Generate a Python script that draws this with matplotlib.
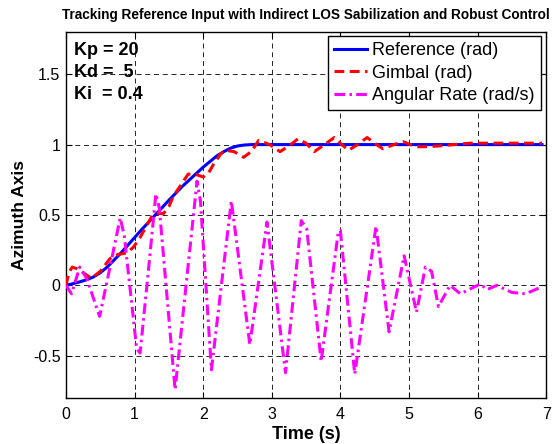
import matplotlib
matplotlib.use("Agg")
import matplotlib.pyplot as plt

plt.rcParams['font.family'] = ['Liberation Sans', 'DejaVu Sans']

# ---------------- data ----------------
ref_t = [0, 0.1, 0.2, 0.3, 0.4, 0.5, 0.6, 0.7, 0.8, 0.9, 1.0, 1.1, 1.2, 1.3, 1.4,
         1.5, 1.6, 1.7, 1.8, 1.9, 2.0, 2.1, 2.2, 2.3, 2.4, 2.5, 2.6, 2.7, 6.94]
ref_v = [0, 0.012, 0.025, 0.04, 0.06, 0.09, 0.13, 0.18, 0.23, 0.285, 0.34, 0.395,
         0.447, 0.5, 0.552, 0.605, 0.655, 0.705, 0.75, 0.795, 0.84, 0.88, 0.92,
         0.95, 0.975, 0.99, 0.997, 1.0, 1.0]

gim_t = [0, 0.04, 0.09, 0.15, 0.25, 0.37, 0.5, 0.64, 0.76, 0.88, 0.98, 1.08, 1.17,
         1.25, 1.33, 1.42, 1.5, 1.56, 1.67, 1.78, 1.88, 2.0, 2.08, 2.15, 2.25, 2.32,
         2.45, 2.59, 2.7, 2.81, 2.97, 3.12, 3.25, 3.38, 3.5, 3.62, 3.77, 3.91, 4.02,
         4.12, 4.25, 4.39, 4.5, 4.62, 4.78, 4.92, 5.02, 5.11, 5.25, 5.43, 5.65, 5.89,
         6.2, 6.6, 6.94]
gim_v = [0, 0.09, 0.13, 0.12, 0.09, 0.05, 0.1, 0.19, 0.22, 0.23, 0.27, 0.34, 0.42,
         0.49, 0.51, 0.51, 0.56, 0.63, 0.71, 0.79, 0.79, 0.77, 0.8, 0.86, 0.93, 0.96,
         0.95, 0.91, 0.95, 1.03, 1.0, 0.95, 0.99, 1.04, 1.01, 0.95, 1.0, 1.05, 1.0,
         0.96, 1.0, 1.05, 1.01, 0.97, 1.0, 1.02, 1.0, 0.985, 0.985, 0.99, 1.0, 1.01,
         1.01, 1.01, 1.01]

rate_t = [0, 0.08, 0.2, 0.3, 0.49, 0.65, 0.79, 0.85, 1.03, 1.08, 1.2, 1.31, 1.36,
          1.59, 1.91, 1.96, 2.12, 2.41, 2.68, 2.93, 3.2, 3.43, 3.51, 3.72, 3.97, 4.0,
          4.21, 4.52, 4.71, 4.93, 5.11, 5.24, 5.33, 5.43, 5.6, 5.75, 6.04, 6.14, 6.28,
          6.5, 6.7, 6.94]
rate_v = [0, -0.06, 0.13, 0.05, -0.22, 0.15, 0.48, 0.35, -0.45, -0.48, 0.1, 0.65,
          0.55, -0.74, 0.74, 0.6, -0.6, 0.6, -0.42, 0.45, -0.62, 0.46, 0.4, -0.54,
          0.38, 0.39, -0.63, 0.42, -0.33, 0.21, -0.19, 0.13, 0.1, -0.15, 0.0, -0.06,
          0.01, -0.03, 0.0, -0.05, -0.06, -0.01]

labels = ['Reference (rad)', 'Gimbal (rad)', 'Angular Rate (rad/s)']
gains = ['Kp = 20', 'Kd =  5', 'Ki  = 0.4']
x_ticks = [0, 1, 2, 3, 4, 5, 6, 7]
y_ticks = [-0.5, 0, 0.5, 1, 1.5]

# ---------------- figure ----------------
fig = plt.figure(figsize=(5.55, 4.44), dpi=100)
ax = fig.add_axes([0.119, 0.1036, 0.865, 0.8244])

ax.plot(ref_t, ref_v, color=(0, 0, 1), lw=2.2, label=labels[0], zorder=3)
ax.plot(gim_t, gim_v, color=(1, 0, 0), lw=2.2, linestyle=(0, (3.2, 1.8)),
        label=labels[1], zorder=4)
ax.plot(rate_t, rate_v, color=(1, 0, 1), lw=2.2, linestyle=(0, (3.5, 1.4, 0.8, 1.4)),
        label=labels[2], zorder=5)

ax.set_xlim(0, 7)
ax.set_ylim(-0.8, 1.8)
ax.set_xticks(x_ticks)
ax.set_yticks(y_ticks)
ax.set_xticklabels([str(v) for v in x_ticks])
ax.set_yticklabels(['-0.5', '0', '0.5', '1', '1.5'])
ax.tick_params(direction='in', length=4, width=0.8, top=True, right=True,
               labelsize=11.5, pad=4, colors='black')
ax.tick_params(axis='x', pad=6.5)
ax.grid(True, color='black', linewidth=0.6, linestyle=(0, (6, 4.5)))
for s in ax.spines.values():
    s.set_linewidth(1.0)

ax.set_xlabel('Time (s)', fontsize=13, fontweight='bold', labelpad=3)
ax.set_ylabel('Azimuth Axis', fontsize=12.5, fontweight='bold', labelpad=4)
ax.set_title('Tracking Reference Input with Indirect LOS Sabilization and Robust Control',
             fontsize=9.8, fontweight='bold', pad=9)

for i, g in enumerate(gains):
    ax.text(0.016, 0.95 - i * 0.061, g, transform=ax.transAxes, fontsize=13,
            fontweight='bold', va='center', ha='left', zorder=6)

leg = ax.legend(loc='upper right', bbox_to_anchor=(0.989, 0.989), borderaxespad=0,
                fontsize=13, frameon=True, fancybox=False, edgecolor='black',
                framealpha=1, handlelength=1.8, handletextpad=0.3, labelspacing=0.3,
                borderpad=0.35)
leg.get_frame().set_linewidth(1.0)
leg.set_zorder(10)

fig.savefig('out.png', dpi=100)
